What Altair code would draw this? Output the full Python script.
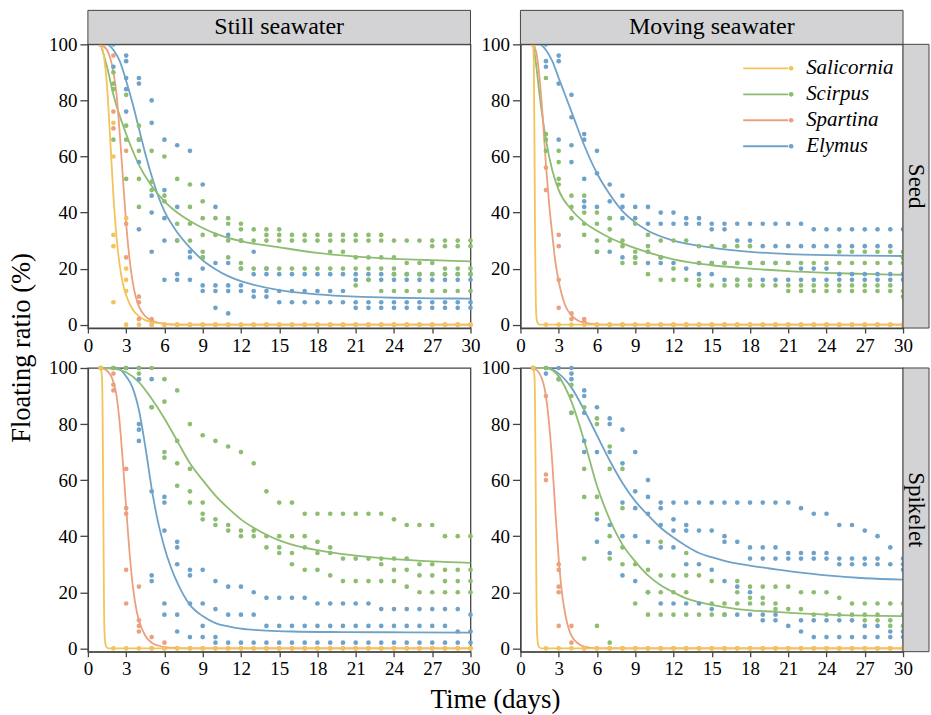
import altair as alt
import pandas as pd

FONT = "Liberation Serif"
FRAME = "#444444"
STRIP_FILL = "#d3d3d5"

SPECIES = ["Salicornia", "Scirpus", "Spartina", "Elymus"]
COLORS = ["#f2c45a", "#8dbd70", "#eba07e", "#6fa2c9"]
DRAW_ORDER = ["Elymus", "Scirpus", "Spartina", "Salicornia"]
COLUMN_LABELS = ["Still seawater", "Moving seawater"]
ROW_LABELS = ["Seed", "Spikelet"]
DAYS = list(range(1, 31))
X_TICKS = [0, 3, 6, 9, 12, 15, 18, 21, 24, 27, 30]
Y_TICKS = [0, 20, 40, 60, 80, 100]

# ---------------- observed floating ratios (one list per day, days 1..30) ----------------
# Still seawater - Seed
A_SAL = [[100], [72, 60, 32, 28, 8], [38, 20, 16, 12, 0], [0], [0],
         [0], [0], [0], [0], [0], [0], [0], [0], [0], [0],
         [0], [0], [0], [0], [0], [0], [0], [0], [0], [0],
         [0], [0], [0], [0], [0]]
A_SCI = [[100], [90, 86, 84, 66], [82, 71, 66, 52], [71, 66, 62, 52, 42], [62, 51, 48],
         [60, 46, 44], [52, 36, 30], [50, 42, 36, 30], [44, 38, 32, 26, 24], [38, 32],
         [38, 36, 30, 24], [36, 34, 30, 22, 20], [34, 30, 20], [34, 32, 30, 20], [34, 32, 30, 20],
         [32, 30, 20], [32, 30, 20], [32, 30, 20], [32, 30, 26, 20], [32, 30, 26, 20],
         [32, 30, 24, 20, 14], [32, 30, 24, 20, 16], [32, 30, 24, 20, 12], [30, 24, 20, 18, 12], [30, 22, 18, 12],
         [30, 22, 18, 12], [30, 28, 22, 18, 12], [30, 28, 20, 18, 12], [30, 28, 20, 18, 12], [30, 28, 20, 18, 12]]
A_SPA = [[100], [96, 76, 70], [62, 36, 24], [10, 8, 2], [2, 0],
         [0], [0], [0], [0], [0], [0], [0], [0], [0], [0],
         [0], [0], [0], [0], [0], [0], [0], [0], [0], [0],
         [0], [0], [0], [0], [0]]
A_ELY = [[100], [100, 92], [96, 94, 88, 84, 76], [88, 86, 66, 58, 34], [80, 72, 46, 40, 26],
         [66, 48, 38, 30, 16], [64, 42, 30, 18, 16], [62, 26, 24, 16], [50, 24, 20, 14, 12], [42, 22, 14, 12, 6],
         [32, 22, 14, 12, 4], [30, 20, 14, 12], [26, 18, 12, 10], [20, 18, 12, 10], [18, 12, 8],
         [18, 12, 8], [18, 12, 8], [18, 12, 8], [18, 12, 8], [18, 12, 8],
         [18, 16, 8, 6], [18, 16, 8, 6], [18, 16, 8, 6], [18, 16, 8, 6], [18, 16, 8, 6],
         [18, 16, 8, 6], [18, 16, 8, 6], [18, 16, 8, 6], [18, 16, 8, 6], [18, 16, 8, 6]]

# Moving seawater - Seed
B_SAL = [[100], [0], [0], [0], [0],
         [0], [0], [0], [0], [0], [0], [0], [0], [0], [0],
         [0], [0], [0], [0], [0], [0], [0], [0], [0], [0],
         [0], [0], [0], [0], [0]]
B_SCI = [[100], [88, 68, 66, 62], [62, 58, 52, 50], [46, 42, 38], [46, 40, 36, 32],
         [40, 36, 30, 26], [38, 34, 30], [30, 28, 22], [36, 26, 24, 22], [32, 28, 26, 18],
         [30, 24, 16], [30, 20, 16], [30, 16], [28, 22, 16, 14], [28, 22, 14],
         [28, 22, 14], [28, 22, 16, 14], [28, 22, 16, 14], [22, 14], [22, 14],
         [22, 14, 12], [22, 14, 12], [22, 14, 12], [22, 14, 12], [26, 22, 14, 12],
         [26, 22, 14, 12], [26, 22, 14, 12], [26, 22, 14, 12], [26, 22, 14, 12], [26, 24, 22, 12, 10]]
B_SPA = [[100], [56, 48], [32, 28, 16, 6], [4, 2], [2, 1],
         [0], [0], [0], [0], [0], [0], [0], [0], [0], [0],
         [0], [0], [0], [0], [0], [0], [0], [0], [0], [0],
         [0], [0], [0], [0], [0]]
B_ELY = [[100], [100, 94, 92], [96, 94, 86, 66], [82, 74, 64, 58], [68, 66, 52, 44, 42],
         [62, 54, 42, 26], [50, 44, 38, 26], [46, 42, 38, 24], [42, 38, 24], [42, 36, 26, 22],
         [40, 36, 24, 22], [40, 36, 22], [38, 36, 20], [38, 36, 22, 18], [36, 34, 22, 18],
         [36, 34, 22, 16], [36, 30, 22, 16], [36, 30, 22, 16], [36, 28, 22, 16], [36, 28, 22, 16],
         [36, 28, 22, 16], [36, 28, 20, 16], [34, 28, 20, 16], [34, 28, 20, 16], [34, 28, 18, 16],
         [34, 28, 18, 16], [34, 28, 18, 16], [34, 28, 18, 16], [34, 28, 18, 16], [34, 24, 18, 16]]

# Still seawater - Spikelet
C_SAL = [[100], [0], [0], [0], [0],
         [0], [0], [0], [0], [0], [0], [0], [0], [0], [0],
         [0], [0], [0], [0], [0], [0], [0], [0], [0], [0],
         [0], [0], [0], [0], [0]]
C_SCI = [[100], [100], [100], [100, 98], [100, 86],
         [96, 88, 70, 68], [92, 74, 66, 58], [80, 64, 56, 52], [76, 52, 48, 46], [74, 46, 44],
         [72, 44, 42], [70, 42, 40], [66, 42, 40], [56, 40, 36], [52, 40, 36, 34],
         [52, 40, 34, 30], [48, 40, 36, 28], [48, 38, 34, 28], [48, 36, 34, 26], [48, 32, 24],
         [48, 32, 24], [48, 32, 24], [48, 32, 30, 24], [46, 32, 28, 24], [44, 32, 28, 22],
         [44, 30, 26, 20], [44, 30, 26, 20], [40, 28, 24, 20], [40, 28, 24, 20], [40, 28, 24, 20]]
C_SPA = [[100], [98, 94, 92], [64, 50, 48, 28, 16], [22, 10, 8, 6], [4, 0],
         [2, 0], [0], [0], [0], [0], [0], [0], [0], [0], [0],
         [0], [0], [0], [0], [0], [0], [0], [0], [0], [0],
         [0], [0], [0], [0], [0]]
C_ELY = [[100], [100], [100], [100, 96, 80, 78, 74], [96, 86, 56, 26, 24],
         [54, 52, 42, 16, 12], [38, 36, 30, 12, 6], [28, 26, 16, 4], [28, 16, 8, 4], [24, 14, 4, 2],
         [22, 12, 2], [22, 12, 2], [20, 12, 2], [18, 8, 2], [18, 8, 2],
         [18, 8, 2], [18, 8, 2], [16, 8, 2], [16, 8, 2], [16, 8, 2],
         [16, 8, 2], [16, 8, 2], [14, 8, 2], [14, 8, 2], [14, 8, 2],
         [14, 8, 2], [14, 8, 2], [14, 8, 2], [14, 6, 2], [12, 6, 2]]

# Moving seawater - Spikelet
D_SAL = [[100], [0], [0], [0], [0],
         [0], [0], [0], [0], [0], [0], [0], [0], [0], [0],
         [0], [0], [0], [0], [0], [0], [0], [0], [0], [0],
         [0], [0], [0], [0], [0]]
D_SCI = [[100], [100], [96], [94, 90, 84], [86, 64, 54, 32],
         [82, 80, 54, 48, 8], [72, 64, 40, 32, 2], [64, 50, 36, 30], [30, 16], [28, 20, 12],
         [38, 26, 20, 12], [26, 20, 12], [34, 26, 20, 12], [26, 12], [24, 16, 12],
         [16, 12], [24, 20, 16], [22, 18, 16], [22, 18, 16], [22, 16, 14],
         [22, 14], [20, 14], [20, 12], [20, 12], [18, 12],
         [16, 12], [16, 12, 10], [16, 12, 10], [16, 10, 8], [16, 12, 8]]
D_SPA = [[100], [90, 62, 60], [30, 28, 22, 20, 8], [8, 2], [0],
         [0], [0], [0], [0], [0], [0], [0], [0], [0], [0],
         [0], [0], [0], [0], [0], [0], [0], [0], [0], [0],
         [0], [0], [0], [0], [0]]
D_ELY = [[100], [100, 98], [100, 96], [100, 98, 96, 84], [92, 90, 84, 74, 70],
         [86, 70, 46, 38], [82, 80, 70, 44, 34], [78, 66, 52, 40, 26], [70, 56, 50, 40, 24], [60, 54, 48, 38, 20],
         [52, 50, 44, 36, 16], [52, 46, 42, 36, 16], [52, 44, 42, 30, 16], [52, 42, 30, 16], [52, 42, 28, 14],
         [52, 40, 38, 24, 12], [52, 38, 22, 12], [52, 36, 32, 20, 12], [52, 36, 32, 12, 10], [52, 36, 32, 12, 10],
         [52, 34, 32, 8], [50, 34, 32, 10, 6], [48, 34, 32, 10, 4], [48, 34, 32, 10, 4], [44, 32, 30, 10, 4],
         [44, 32, 30, 10, 4], [42, 32, 30, 8, 4], [40, 32, 30, 8, 4], [36, 30, 6, 4], [32, 30, 28, 6, 4]]

# ---------------- fitted curves (time, value) ----------------
A_SAL_T = [1, 1.25, 1.5, 1.75, 2, 2.25, 2.5, 2.75, 3, 3.5, 4, 4.5, 5, 6, 7, 30]
A_SAL_V = [100, 96, 85, 66, 46, 31, 21, 14.5, 10.5, 5.5, 3, 1.6, 0.9, 0.3, 0.05, 0]
A_SCI_T = [1, 1.5, 2, 3, 4, 5, 6, 7, 8, 9, 10, 12, 15, 18, 21, 24, 27, 30]
A_SCI_V = [100, 92, 82, 68, 57, 49.5, 44, 40, 37, 34.5, 32.5, 29.8, 27.6, 25.6, 24.3, 23.5, 23, 22.6]
A_SPA_T = [1, 1.5, 2, 2.25, 2.5, 2.75, 3, 3.25, 3.5, 3.75, 4, 4.5, 5, 5.5, 6, 7, 30]
A_SPA_V = [100, 98, 90, 82, 68, 52, 36, 24, 15.5, 10, 6.5, 3, 1.5, 0.7, 0.3, 0, 0]
A_ELY_T = [1, 1.5, 2, 2.5, 3, 3.5, 4, 4.5, 5, 5.5, 6, 7, 8, 9, 10, 11, 12, 13, 15, 18, 21, 24, 27, 30]
A_ELY_V = [100, 100, 98, 94, 87, 79, 70, 61, 53, 46, 40.5, 33, 27.5, 23, 19.8, 17.3, 15.5, 14.2, 12.3, 10.8, 10, 9.6, 9.4, 9.3]

B_SAL_T = [1, 1.05, 1.1, 1.15, 1.2, 1.25, 1.35, 1.5, 30]
B_SAL_V = [100, 92, 65, 30, 10, 3, 0.5, 0, 0]
B_SCI_T = [1, 1.25, 1.5, 2, 2.5, 3, 4, 5, 6, 7, 8, 10, 12, 15, 18, 21, 24, 27, 30]
B_SCI_V = [100, 92, 82, 66, 55, 48, 41, 36.5, 33.5, 31, 29, 25.8, 23.3, 21.2, 20, 19.1, 18.5, 18.1, 17.8]
B_SPA_T = [1, 1.25, 1.5, 1.75, 2, 2.25, 2.5, 2.75, 3, 3.5, 4, 4.5, 5, 6, 7, 30]
B_SPA_V = [100, 97, 88, 74, 57, 43, 32, 22, 15.5, 7, 3.3, 1.5, 0.7, 0.1, 0, 0]
B_ELY_T = [1, 1.5, 2, 2.5, 3, 3.5, 4, 5, 6, 7, 8, 9, 10, 12, 15, 18, 21, 24, 27, 30]
B_ELY_V = [100, 100, 98, 94, 88, 82, 76, 64, 54, 46.5, 40.5, 36.5, 33.5, 30, 27.5, 26, 25.2, 24.8, 24.6, 24.5]

C_SAL_T = [1, 1.1, 1.15, 1.2, 1.25, 1.3, 1.4, 1.6, 30]
C_SAL_V = [100, 97, 85, 55, 22, 6, 1, 0, 0]
C_SCI_T = [1, 2, 3, 4, 5, 6, 7, 8, 9, 10, 11, 12, 13, 14, 15, 16, 18, 20, 22, 24, 27, 30]
C_SCI_V = [100, 99.8, 98.5, 95, 89, 82, 74, 66, 60, 54.5, 50, 46, 43, 40.5, 38.5, 37, 35, 33.6, 32.6, 31.8, 31, 30.5]
C_SPA_T = [1, 1.5, 2, 2.25, 2.5, 2.75, 3, 3.25, 3.5, 3.75, 4, 4.5, 5, 5.5, 6, 7, 8, 30]
C_SPA_V = [100, 99, 95, 90, 80, 66, 50, 35, 23, 15, 10, 4.5, 2, 1, 0.4, 0.1, 0, 0]
C_ELY_T = [1, 2, 2.5, 3, 3.5, 4, 4.5, 5, 5.5, 6, 6.5, 7, 8, 9, 10, 11, 12, 14, 16, 20, 25, 30]
C_ELY_V = [100, 100, 99.5, 97, 93, 85, 72, 57, 45, 36, 29, 23.5, 15.5, 11.5, 9, 7.8, 7, 6.3, 6, 5.8, 5.7, 5.6]

D_SAL_T = [1, 1.1, 1.15, 1.2, 1.25, 1.3, 1.4, 1.6, 30]
D_SAL_V = [100, 97, 85, 55, 22, 6, 1, 0, 0]
D_SCI_T = [1, 2, 3, 4, 5, 6, 7, 8, 9, 10, 11, 12, 13, 14, 15, 17, 20, 24, 30]
D_SCI_V = [100, 100, 97, 88, 74, 58, 46, 37, 31, 26, 22.5, 20, 17.8, 16.5, 15.5, 14, 13, 12, 11.5]
D_SPA_T = [1, 1.5, 2, 2.25, 2.5, 2.75, 3, 3.25, 3.5, 3.75, 4, 4.5, 5, 6, 30]
D_SPA_V = [100, 98, 90, 80, 66, 48, 32, 20, 12.5, 7.5, 4.5, 1.8, 0.6, 0, 0]
D_ELY_T = [1, 2, 3, 4, 5, 6, 7, 8, 9, 10, 11, 12, 13, 14, 15, 16, 18, 20, 22, 24, 27, 30]
D_ELY_V = [100, 100, 98, 93, 85, 76, 67, 59, 52.5, 47.5, 43, 39.5, 36.5, 34, 32.5, 31.2, 29.5, 28.2, 27, 26, 25, 24.5]

PANELS = [
    {"col": 0, "row": 0,
     "obs": {"Salicornia": A_SAL, "Scirpus": A_SCI, "Spartina": A_SPA, "Elymus": A_ELY},
     "fit": {"Salicornia": (A_SAL_T, A_SAL_V), "Scirpus": (A_SCI_T, A_SCI_V),
             "Spartina": (A_SPA_T, A_SPA_V), "Elymus": (A_ELY_T, A_ELY_V)}},
    {"col": 1, "row": 0,
     "obs": {"Salicornia": B_SAL, "Scirpus": B_SCI, "Spartina": B_SPA, "Elymus": B_ELY},
     "fit": {"Salicornia": (B_SAL_T, B_SAL_V), "Scirpus": (B_SCI_T, B_SCI_V),
             "Spartina": (B_SPA_T, B_SPA_V), "Elymus": (B_ELY_T, B_ELY_V)}},
    {"col": 0, "row": 1,
     "obs": {"Salicornia": C_SAL, "Scirpus": C_SCI, "Spartina": C_SPA, "Elymus": C_ELY},
     "fit": {"Salicornia": (C_SAL_T, C_SAL_V), "Scirpus": (C_SCI_T, C_SCI_V),
             "Spartina": (C_SPA_T, C_SPA_V), "Elymus": (C_ELY_T, C_ELY_V)}},
    {"col": 1, "row": 1,
     "obs": {"Salicornia": D_SAL, "Scirpus": D_SCI, "Spartina": D_SPA, "Elymus": D_ELY},
     "fit": {"Salicornia": (D_SAL_T, D_SAL_V), "Scirpus": (D_SCI_T, D_SCI_V),
             "Spartina": (D_SPA_T, D_SPA_V), "Elymus": (D_ELY_T, D_ELY_V)}},
]

W, H = 383, 284
HDR = 34
STRIP = 26


def obs_frame(obs):
    rows = []
    for sp in DRAW_ORDER:
        for day, vals in zip(DAYS, obs[sp]):
            for v in vals:
                rows.append({"species": sp, "day": day, "ratio": v})
    return pd.DataFrame(rows)


def fit_frame(fit):
    rows = []
    for sp in DRAW_ORDER:
        t, v = fit[sp]
        for a, b in zip(t, v):
            rows.append({"species": sp, "day": a, "ratio": b})
    return pd.DataFrame(rows)


color = alt.Color("species:N", scale=alt.Scale(domain=SPECIES, range=COLORS), legend=None)


def make_panel(p):
    x_enc = alt.X("day:Q", scale=alt.Scale(domain=[0, 30], nice=False, zero=False),
                  axis=alt.Axis(values=X_TICKS, title=None, labelFlush=False, labelFont=FONT,
                                labelFontSize=19, tickSize=5, labelPadding=3))
    y_enc = alt.Y("ratio:Q", scale=alt.Scale(domain=[-1.2, 100], nice=False, zero=False),
                  axis=alt.Axis(values=Y_TICKS, title=None, labelFont=FONT, labelFontSize=19,
                                tickSize=8, labelPadding=3))
    lines = alt.Chart(fit_frame(p["fit"])).mark_line(
        strokeWidth=1.8, interpolate="monotone").encode(x=x_enc, y=y_enc, color=color)
    dots = alt.Chart(obs_frame(p["obs"])).mark_circle(size=22, opacity=1).encode(
        x=x_enc, y=y_enc, color=color)
    layers = [alt.layer(lines, dots)]

    if p["row"] == 0:
        hdf = pd.DataFrame({"label": [COLUMN_LABELS[p["col"]]]})
        layers.append(alt.Chart(hdf).mark_rect(fill=STRIP_FILL, stroke=FRAME, strokeWidth=1).encode(
            x=alt.value(0), x2=alt.value(W), y=alt.value(-HDR), y2=alt.value(0)))
        layers.append(alt.Chart(hdf).mark_text(font=FONT, fontSize=24, color="black",
                                               baseline="middle").encode(
            x=alt.value(W / 2), y=alt.value(-HDR / 2), text="label:N"))
    if p["col"] == 1:
        sdf = pd.DataFrame({"label": [ROW_LABELS[p["row"]]]})
        layers.append(alt.Chart(sdf).mark_rect(fill=STRIP_FILL, stroke=FRAME, strokeWidth=1).encode(
            x=alt.value(W), x2=alt.value(W + STRIP), y=alt.value(0), y2=alt.value(H)))
        layers.append(alt.Chart(sdf).mark_text(font=FONT, fontSize=23, color="black", angle=90,
                                               baseline="middle").encode(
            x=alt.value(W + STRIP / 2), y=alt.value(H / 2), text="label:N"))
    if p["row"] == 0 and p["col"] == 0:
        tdf = pd.DataFrame({"label": ["Floating ratio (%)"]})
        layers.append(alt.Chart(tdf).mark_text(font=FONT, fontSize=26.5, color="black", angle=270,
                                               baseline="middle").encode(
            x=alt.value(-66), y=alt.value(H + 20), text="label:N"))
    if p["row"] == 1 and p["col"] == 0:
        tdf = pd.DataFrame({"label": ["Time (days)"]})
        layers.append(alt.Chart(tdf).mark_text(font=FONT, fontSize=27, color="black",
                                               baseline="middle").encode(
            x=alt.value(W + 25), y=alt.value(H + 48), text="label:N"))

    if p["row"] == 0 and p["col"] == 1:
        ldf = pd.DataFrame({"species": SPECIES})
        ly = alt.Y("species:N", scale=alt.Scale(domain=SPECIES, range=[11, 115]), axis=None)
        l_rule = alt.Chart(ldf).mark_rule(strokeWidth=1.8).encode(
            x=alt.value(223), x2=alt.value(268), y=ly, color=color)
        l_dot = alt.Chart(ldf).mark_circle(size=22, opacity=1).encode(
            x=alt.value(271), y=ly, color=color)
        l_txt = alt.Chart(ldf).mark_text(align="left", baseline="middle", font=FONT, fontSize=21,
                                         fontStyle="italic", color="black").encode(
            x=alt.value(286), y=ly, text="species:N")
        layers.append(alt.layer(l_rule, l_dot, l_txt))
        return alt.layer(*layers).properties(width=W, height=H).resolve_scale(y="independent")

    return alt.layer(*layers).properties(width=W, height=H)


panels = [make_panel(p) for p in PANELS]

chart = alt.ConcatChart(
    concat=panels, columns=2, spacing={"row": 40, "column": 50}, bounds="flush"
).properties(
    padding={"left": 8, "top": 8, "right": 0, "bottom": 2}
).configure(
    font=FONT
).configure_view(
    stroke=FRAME, strokeWidth=1.3
).configure_axis(
    labelFont=FONT, labelColor="black", tickColor=FRAME, domainColor=FRAME,
    domainWidth=1.3, tickWidth=1.3, grid=False
)

chart.save("out.html", embed_options={"renderer": "svg", "actions": False})
